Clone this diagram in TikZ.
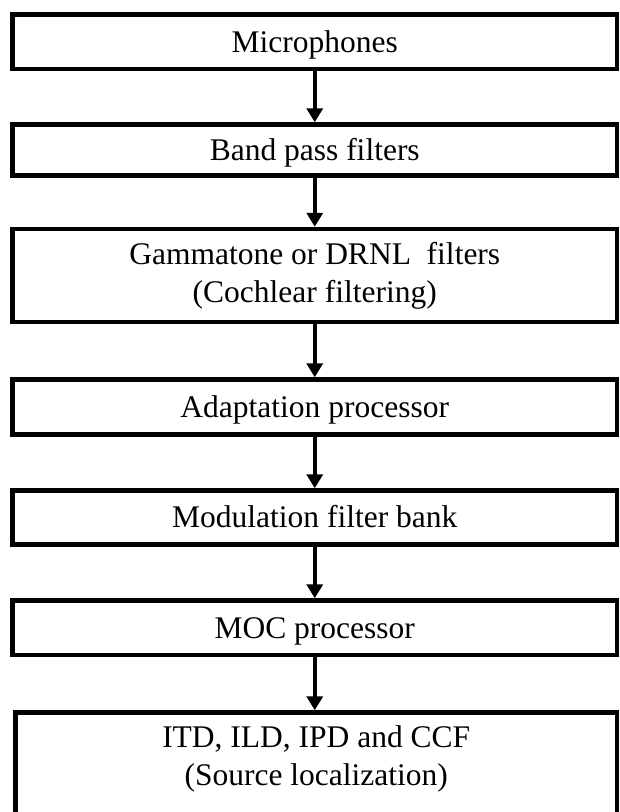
\documentclass[tikz,border=0pt]{standalone}
\usepackage{fontspec}
\setmainfont{Liberation Serif}
\usetikzlibrary{arrows.meta}
\begin{document}
\begin{tikzpicture}[x=1pt,y=-1pt,
  box/.style={draw=black, line width=4.5pt, minimum width=604.5pt, inner sep=0pt,
    align=center, font=\fontsize{31.5}{38}\selectfont},
  onebox/.style={box, text height=20.5pt, text depth=0pt},
  flow/.style={line width=4pt, -{Triangle[width=16pt,length=14pt]}}]
\path[use as bounding box, fill=white] (0,0) rectangle (620,812);
\clip (0,0) rectangle (620,812);
\node[onebox, minimum height=54.3pt] (b1) at (314.75,41.85) {Microphones};
\node[onebox, minimum height=51pt]   (b2) at (314.75,150) {Band pass filters};
\node[box, minimum height=93pt]   (b3) at (314.75,275.5) {Gammatone or DRNL\ \ filters\\(Cochlear filtering)};
\node[onebox, minimum height=55pt]   (b4) at (314.75,407) {Adaptation processor};
\node[onebox, minimum height=54pt]   (b5) at (314.75,517.5) {Modulation filter bank};
\node[onebox, minimum height=54.5pt] (b6) at (314.75,627.75) {MOC processor};
\node[box, draw=none, outer sep=0pt, minimum width=601.5pt, minimum height=93pt] (b7) at (316.25,759) {ITD, ILD, IPD and CCF\\(Source localization)};
\draw[line width=4.5pt] ([yshift=-60pt]b7.south west) -- (b7.north west) -- (b7.north east) -- ([yshift=-60pt]b7.south east);
\draw[flow] (b1.south) -- (b2.north);
\draw[flow] (b2.south) -- (b3.north);
\draw[flow] (b3.south) -- (b4.north);
\draw[flow] (b4.south) -- (b5.north);
\draw[flow] (b5.south) -- (b6.north);
\draw[flow] (b6.south) -- ([yshift=2.25pt]b7.north -| b6.south);
\end{tikzpicture}
\end{document}
